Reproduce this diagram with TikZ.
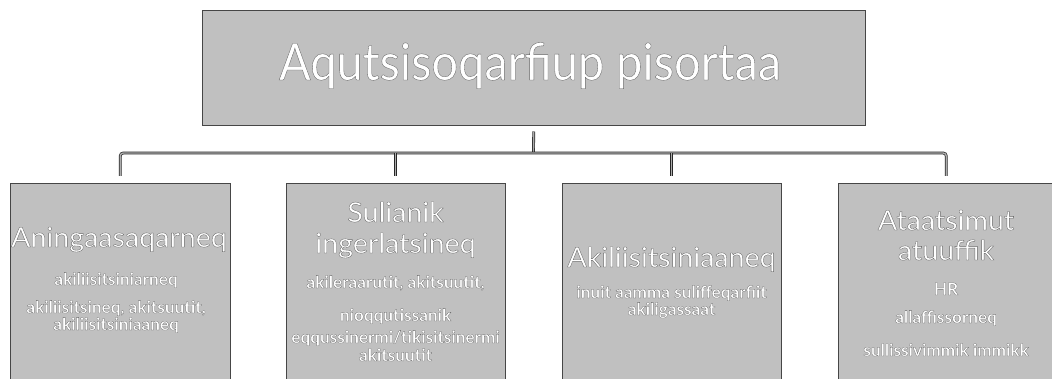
\documentclass[tikz,border=0pt]{standalone}
\usepackage{fontspec}
\setmainfont{Lato}
\newfontfamily\bigfam[FakeStretch=0.92]{Lato}
\newfontfamily\midfam[FakeStretch=1.04]{Lato}
\newfontfamily\smlfam[FakeStretch=1.01]{Lato}
\newcommand\halo[1]{\special{pdf:literal direct 0.4 G 2 Tr 0.35 w}#1\special{pdf:literal direct 0 Tr}}
\newcommand\thalo[1]{\special{pdf:literal direct 0.4 G 2 Tr 0.25 w}#1\special{pdf:literal direct 0 Tr}}
\definecolor{boxgray}{RGB}{192,192,192}
\tikzset{
  box/.style={draw=gray!55!black, line width=0.5pt, fill=boxgray, inner sep=0pt, anchor=north west},
  bigtxt/.style={text=white, inner sep=0pt, anchor=base, font=\bigfam\fontsize{51}{56}\selectfont},
  midtxt/.style={text=white, inner sep=0pt, anchor=base, font=\midfam\fontsize{27.5}{31}\selectfont},
  smltxt/.style={text=white, inner sep=0pt, anchor=base, font=\smlfam\bfseries\fontsize{17}{19}\selectfont},
  conn/.style={draw=gray!30!black, line width=0.7pt, double=gray!65, double distance=1.4pt}
}
\begin{document}
\begin{tikzpicture}[x=1pt,y=-1pt]
\useasboundingbox (0,0) rectangle (1052,379);
\node[box, minimum width=663pt, minimum height=115pt] (top) at (202,10) {};
\node[box, minimum width=220pt, minimum height=200pt] (b1) at (10,183) {};
\node[box, minimum width=219pt, minimum height=200pt] (b2) at (286,183) {};
\node[box, minimum width=219pt, minimum height=200pt] (b3) at (562,183) {};
\node[box, minimum width=216pt, minimum height=200pt] (b4) at (838,183) {};
\coordinate (hub) at (533.5,153);
\draw[conn, shorten <=6pt] (top.south) -- (hub);
\draw[conn, shorten <=7pt, shorten >=7pt, rounded corners=3pt] (b1.north) |- (hub) -| (b4.north);
\draw[conn, shorten <=7pt] (b2.north) -- (b2.north |- hub);
\draw[conn, shorten <=7pt] (b3.north) -- (b3.north |- hub);
\node[bigtxt] (t0) at (530,80) {\halo{Aqutsisoqarfiup pisortaa}};
\node[midtxt] (t1a) at (119,247) {\halo{Aningaasaqarneq}};
\node[smltxt] (t1b) at (116,285) {\thalo{akiliisitsiniarneq}};
\node[smltxt] (t1c) at (116,313) {\thalo{akiliisitsineq, akitsuutit,}};
\node[smltxt] (t1d) at (116,330) {\thalo{akiliisitsiniaaneq}};
\node[midtxt] (t2a) at (395.5,222) {\halo{Sulianik}};
\node[midtxt] (t2b) at (395.5,253) {\halo{ingerlatsineq}};
\node[smltxt] (t2c) at (395.5,288) {\thalo{akileraarutit, akitsuutit,}};
\node[smltxt] (t2d) at (395.5,321) {\thalo{nioqqutissanik}};
\node[smltxt] (t2e) at (395.5,343) {\thalo{eqqussinermi/tikisitsinermi}};
\node[smltxt] (t2f) at (395.5,361) {\thalo{akitsuutit}};
\node[midtxt] (t3a) at (671.5,267) {\halo{Akiliisitsiniaaneq}};
\node[smltxt] (t3b) at (671.5,298) {\thalo{inuit aamma suliffeqarfiit}};
\node[smltxt] (t3c) at (671.5,315) {\thalo{akiligassaat}};
\node[midtxt] (t4a) at (946,230) {\halo{Ataatsimut}};
\node[midtxt] (t4b) at (946,260) {\halo{atuuffik}};
\node[smltxt] (t4c) at (946,295) {\thalo{HR}};
\node[smltxt] (t4d) at (946,323) {\thalo{allaffissorneq}};
\node[smltxt] (t4e) at (946,356) {\thalo{sullissivimmik immikk}};
\end{tikzpicture}
\end{document}
